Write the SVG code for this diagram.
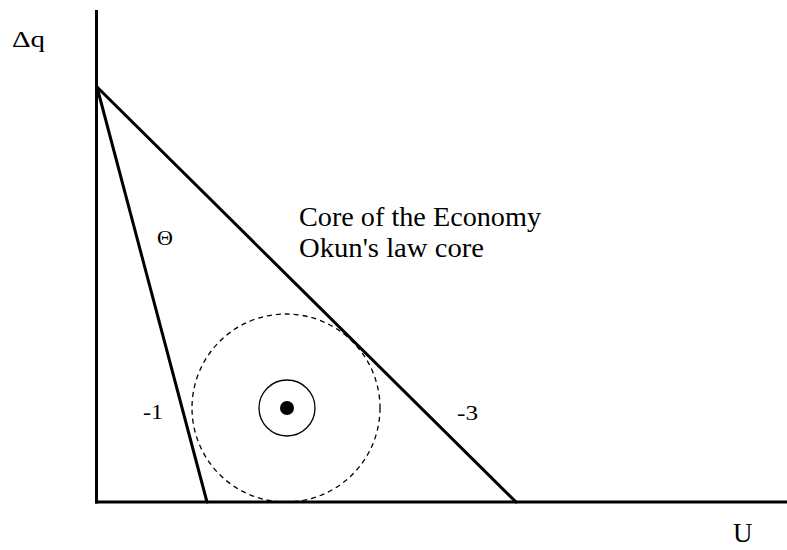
<svg xmlns="http://www.w3.org/2000/svg" width="787" height="550" viewBox="0 0 787 550">
<style>
.t{font-family:"Liberation Serif","Times New Roman",serif;fill:#000}
.ax{stroke:#000;stroke-width:3;fill:none}
.ln{stroke:#000;stroke-width:3;fill:none;stroke-linecap:round}
</style>
<rect width="787" height="550" fill="#fff"/>
<g id="axes">
<line class="ax" x1="96.5" y1="10" x2="96.5" y2="503.5"/>
<line class="ax" x1="95" y1="502" x2="787" y2="502"/>
</g>
<g id="connectors">
<line id="line-3" class="ln" x1="97" y1="87" x2="516" y2="502"/>
<line id="line-1" class="ln" x1="97" y1="87" x2="207" y2="502"/>
</g>
<g id="outer-circle"><circle cx="286" cy="408" r="94" fill="none" stroke="#000" stroke-width="1.3" stroke-dasharray="5,4"/></g>
<g id="inner-circle"><circle cx="287" cy="408" r="28" fill="none" stroke="#000" stroke-width="1.3"/></g>
<g id="dot"><circle cx="287" cy="408" r="7" fill="#000"/></g>
<g id="labels">
<text class="t" x="12" y="47" font-size="24" textLength="33" lengthAdjust="spacingAndGlyphs">Δq</text>
<text class="t" x="157" y="245" font-size="22">Θ</text>
<text class="t" x="299" y="226" font-size="27" textLength="242" lengthAdjust="spacingAndGlyphs">Core of the Economy</text>
<text class="t" x="299" y="257" font-size="27" textLength="185" lengthAdjust="spacingAndGlyphs">Okun's law core</text>
<text class="t" x="143" y="419" font-size="21" textLength="20" lengthAdjust="spacingAndGlyphs">-1</text>
<text class="t" x="457" y="420" font-size="21" textLength="21" lengthAdjust="spacingAndGlyphs">-3</text>
<text class="t" x="733" y="542" font-size="27">U</text>
</g>
</svg>
